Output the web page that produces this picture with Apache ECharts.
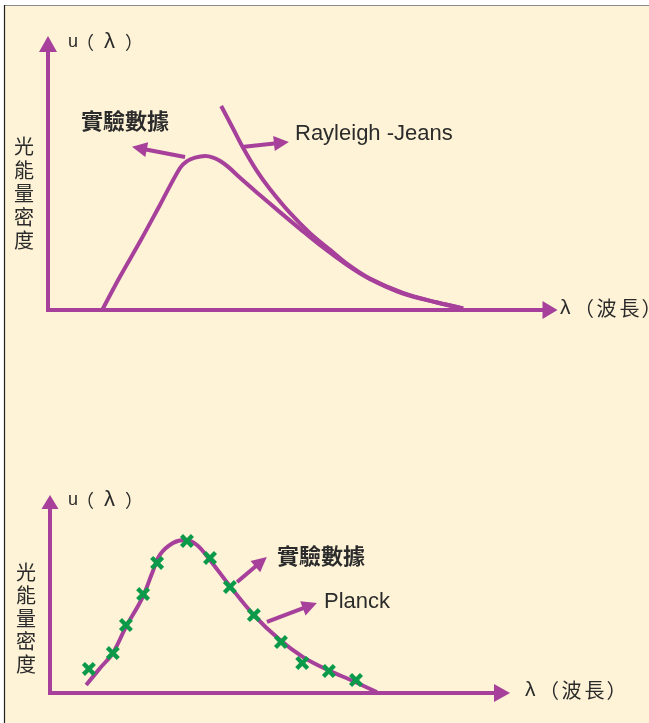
<!DOCTYPE html>
<html>
<head>
<meta charset="utf-8">
<script src="https://cdn.jsdelivr.net/npm/echarts@6/dist/echarts.min.js"></script>
<style>
  html, body { margin: 0; padding: 0; background: #ffffff; }
  #chart { width: 649px; height: 723px; }
</style>
</head>
<body>
<div id="chart"></div>
<script>
// ---------- Data (abstract units: wavelength 0..10, energy density 0..10) ----------
// Top panel: experimental curve
const topExpX = [1.08, 1.43, 1.85, 2.23, 2.63, 2.77, 2.93, 3.13, 3.29, 3.43, 3.59, 3.82, 4.16, 4.62, 5.02, 5.42, 5.96, 6.41, 7.07, 7.75, 8.27];
const topExpY = [0, 1.24, 2.63, 3.95, 5.34, 5.6, 5.73, 5.79, 5.73, 5.6, 5.38, 4.98, 4.42, 3.68, 3.05, 2.44, 1.69, 1.17, 0.62, 0.28, 0.06];
// Top panel: Rayleigh-Jeans curve
const rjX = [3.45, 3.67, 3.9, 4.16, 4.42, 4.82, 5.22, 5.62, 5.96, 6.41, 7.07, 7.75, 8.27];
const rjY = [7.67, 6.88, 6.05, 5.23, 4.55, 3.65, 2.89, 2.26, 1.73, 1.18, 0.64, 0.28, 0.06];
// Bottom panel: Planck curve
const planckX = [0.8, 1.11, 1.39, 1.68, 2.04, 2.26, 2.43, 2.72, 2.99, 3.25, 3.52, 3.98, 4.51, 5.09, 5.6, 6.15, 6.7, 7.23];
const planckY = [0.42, 1.31, 2.09, 3.46, 4.97, 6.28, 7.23, 7.85, 8.01, 7.75, 7.02, 5.6, 4.08, 2.77, 1.88, 1.2, 0.63, 0.05];
// Bottom panel: experimental data points
const dataX = [0.86, 1.39, 1.68, 2.06, 2.37, 3.03, 3.54, 3.98, 4.51, 5.11, 5.58, 6.17, 6.77];
const dataY = [1.26, 2.09, 3.56, 5.18, 6.81, 7.96, 7.07, 5.55, 4.08, 2.67, 1.57, 1.15, 0.68];
// Annotation arrows (start, end) in data units
const topArrowFrom = [[2.73, 5.75], [3.86, 6.13]];
const topArrowTo = [[1.82, 6.08], [4.65, 6.29]];
const botArrowFrom = [[4.14, 5.81], [4.80, 3.72]];
const botArrowTo = [[4.67, 6.87], [5.75, 4.57]];
// Texts
const yTitle = '光能量密度';
const expLabel = '實驗數據';
const rjLabel = 'Rayleigh -Jeans';
const planckLabel = 'Planck';

// ---------- Build ----------
const purple = '#A6409A';
const green = '#0B9A4A';
const ink = '#2b2b2b';
const LAT = 'Liberation Sans';
const CJK = 'Noto Sans CJK TC';
const zip = (xs, ys) => xs.map((x, i) => [x, ys[i]]);

function axisPair(gi, sizeX, sizeY) {
  const base = {
    type: 'value', min: 0, max: 10, gridIndex: gi,
    axisTick: { show: false }, axisLabel: { show: false }, splitLine: { show: false },
  };
  return [
    Object.assign({}, base, { axisLine: { show: true, onZero: true, symbol: ['none', 'triangle'], symbolSize: sizeX,
      lineStyle: { color: purple, width: 4, cap: 'square' } } }),
    Object.assign({}, base, { axisLine: { show: true, onZero: true, symbol: ['none', 'triangle'], symbolSize: sizeY,
      lineStyle: { color: purple, width: 4, cap: 'square' } } })
  ];
}
const ax0 = axisPair(0, [18, 15], [18, 16]);
const ax1 = axisPair(1, [18, 16], [17, 14]);

function curve(xi, xs, ys, w) {
  return {
    type: 'line', xAxisIndex: xi, yAxisIndex: xi, data: zip(xs, ys), smooth: 0.35,
    showSymbol: false, symbol: 'none', silent: true,
    lineStyle: { color: purple, width: w }, z: 3
  };
}
function arrows(xi, from, to) {
  return {
    type: 'lines', coordinateSystem: 'cartesian2d', xAxisIndex: xi, yAxisIndex: xi,
    symbol: ['none', 'triangle'], symbolSize: [16, 15], silent: true,
    lineStyle: { color: purple, width: 4, opacity: 1, curveness: 0 },
    data: from.map((f, i) => ({ coords: [f, to[i]] })), z: 4
  };
}

function vText(x, yTop, step) {
  return { type: 'text', x: x, y: yTop, style: { text: yTitle.split('').join('\n'), font: '20px "' + CJK + '"',
    fill: ink, align: 'center', verticalAlign: 'top', textAlign: 'center', textVerticalAlign: 'top', lineHeight: step } };
}
function hText(x, y, text, font) {
  return { type: 'text', x: x, y: y, style: { text: text, font: font, fill: ink,
    align: 'left', verticalAlign: 'middle', textAlign: 'left', textVerticalAlign: 'middle' } };
}
// "u（λ）" with the spacing of the original
function uText(x, y) {
  return { type: 'text', x: x, y: y, style: {
    text: '{u|u}{p|（}{l|λ}{p|）}', fill: ink, align: 'left', verticalAlign: 'middle',
    textAlign: 'left', textVerticalAlign: 'middle',
    rich: {
      u: { fontFamily: LAT, fontSize: 18, width: 8, align: 'left', fill: ink, height: 22 },
      p: { fontFamily: CJK, fontSize: 18, width: 18, align: 'left', fill: ink, height: 22 },
      l: { fontFamily: LAT, fontSize: 22, width: 31, align: 'center', fill: ink, height: 22 }
    } } };
}
// "λ（波長）"
function xText(x, y) {
  return { type: 'text', x: x, y: y, style: {
    text: '{l|λ}{p|（}{c|波}{c|長}{p|）}', fill: ink, align: 'left', verticalAlign: 'middle',
    textAlign: 'left', textVerticalAlign: 'middle',
    rich: {
      l: { fontFamily: LAT, fontSize: 21, width: 14, align: 'left', fill: ink, height: 24 },
      p: { fontFamily: CJK, fontSize: 20, width: 21, align: 'left', fill: ink, height: 24 },
      c: { fontFamily: CJK, fontSize: 20, width: 23, align: 'center', fill: ink, height: 24 }
    } } };
}

const chart = echarts.init(document.getElementById('chart'), null, { renderer: 'canvas' });
chart.setOption({
  animation: false,
  backgroundColor: '#FEF3D6',
  grid: [
    { left: 48, top: 44, right: 99, bottom: 413 },
    { left: 50, top: 502, right: 147, bottom: 30 }
  ],
  xAxis: [ax0[0], ax1[0]],
  yAxis: [ax0[1], ax1[1]],
  series: [
    curve(0, topExpX, topExpY, 4),
    curve(0, rjX, rjY, 4),
    arrows(0, topArrowFrom, topArrowTo),
    curve(1, planckX, planckY, 4),
    {
      type: 'scatter', xAxisIndex: 1, yAxisIndex: 1, data: zip(dataX, dataY), silent: true,
      symbol: 'path://M0,2.2L2.2,0L5,2.8L7.8,0L10,2.2L7.2,5L10,7.8L7.8,10L5,7.2L2.2,10L0,7.8L2.8,5Z', symbolSize: 14,
      itemStyle: { color: green, opacity: 1 }, z: 5
    },
    arrows(1, botArrowFrom, botArrowTo)
  ],
  graphic: [
    { type: 'rect', shape: { x: 0, y: 0, width: 4, height: 723 }, style: { fill: '#ffffff' } },
    { type: 'rect', shape: { x: 0, y: 0, width: 649, height: 5 }, style: { fill: '#ffffff' } },
    { type: 'line', shape: { x1: 4, y1: 5.5, x2: 649, y2: 5.5 }, style: { stroke: '#8a8a8a', lineWidth: 1.2 } },
    { type: 'line', shape: { x1: 4.5, y1: 5, x2: 4.5, y2: 723 }, style: { stroke: '#222222', lineWidth: 1.2 } },
    uText(68, 42),
    uText(68, 500),
    xText(560, 308),
    xText(525, 690),
    vText(24, 135, 23.5),
    vText(26, 560.5, 23),
    hText(81, 121, expLabel, 'bold 22px "' + CJK + '"'),
    hText(277, 556, expLabel, 'bold 22px "' + CJK + '"'),
    hText(295, 134, rjLabel, '22px "' + LAT + '"'),
    hText(324, 602, planckLabel, '22px "' + LAT + '"')
  ]
});
</script>
</body>
</html>
